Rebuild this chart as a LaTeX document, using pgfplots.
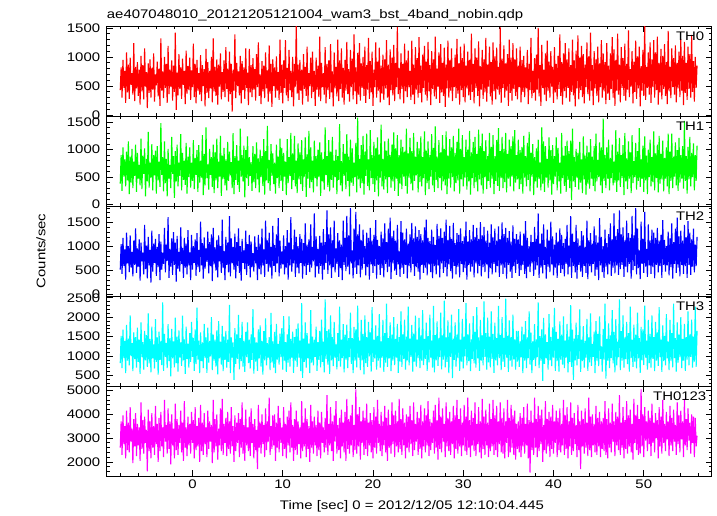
\documentclass[border=0pt]{standalone}
\usepackage{fontspec}
\setmainfont{Liberation Sans}[FakeStretch=1.2]
\usepackage{pgfplots}
\pgfplotsset{compat=1.18}
\usepackage{pgfplotstable}
\newcommand\fs{\fontsize{12.5}{15}\selectfont}
\definecolor{qred}{RGB}{255,0,0}
\definecolor{qgreen}{RGB}{0,255,0}
\definecolor{qblue}{RGB}{0,0,255}
\definecolor{qcyan}{RGB}{0,255,255}
\definecolor{qmag}{RGB}{255,0,255}

\pgfplotstableread{
t a b c d e
-8.0 430 380 520 820 2600
-7.9 820 900 1050 1520 3700
-7.8 300 250 430 690 2300
-7.7 950 1040 1180 1680 3950
-7.6 470 510 600 950 2750
-7.5 760 820 940 1390 3500
-7.4 210 330 310 560 2150
-7.3 1080 960 1290 1800 4150
-7.2 390 440 650 880 2500
-7.1 870 1150 1010 1450 3650
-7.0 280 190 470 760 2400
-6.9 990 870 1230 2050 4300
-6.8 520 400 560 1000 2850
-6.7 720 1010 890 1330 3400
-6.6 350 300 380 610 1950
-6.5 1240 780 1120 1610 3800
-6.4 240 520 620 920 2650
-6.3 830 1090 1380 1490 4050
-6.2 460 230 450 700 2250
-6.1 910 940 960 1730 3600
-6.0 330 470 580 850 2700
-5.9 780 720 1150 1420 3450
-5.8 180 350 290 540 2050
-5.7 1020 1200 1080 1870 4500
-5.6 410 280 690 970 2550
-5.5 860 890 870 1360 3750
-5.4 270 560 420 650 2350
-5.3 1150 1020 1450 1650 3900
-5.2 490 150 530 890 2800
-5.1 740 830 1020 1540 3350
-5.0 120 420 340 720 1600
-4.9 890 1320 1200 2100 4200
-4.8 380 310 610 810 2450
-4.7 960 760 930 1440 3700
-4.6 300 490 250 580 2150
-4.5 810 1100 1330 1760 4050
-4.4 440 260 480 940 2600
-4.3 1060 900 1060 1300 3500
-4.2 230 530 660 680 2300
-4.1 700 980 1160 1950 4350
-4.0 510 200 390 850 2750
-3.9 920 1060 990 1480 3600
-3.8 320 440 570 520 2000
-3.7 800 780 1260 1630 3850
-3.6 160 320 300 900 2450
-3.5 1320 1480 1100 1390 4100
-3.4 420 540 520 770 2650
-3.3 750 860 870 2380 3450
-3.2 290 240 640 620 2200
-3.1 1000 1150 1390 1570 4600
-3.0 470 390 460 980 2850
-2.9 880 830 1040 1340 3550
-2.8 210 150 700 690 2350
-2.7 1190 1010 1610 1820 4250
-2.6 360 470 350 870 2550
-2.5 780 720 950 1460 3700
-2.4 490 300 580 480 1900
-2.3 940 1230 1170 1700 4000
-2.2 250 560 410 940 2700
-2.1 850 880 1300 1380 3400
-2.0 400 120 620 710 2150
-1.9 1420 970 1080 1990 4450
-1.8 90 420 270 820 2500
-1.7 730 1090 1220 1500 3800
-1.6 340 330 540 600 2300
-1.5 1050 760 890 1660 3550
-1.4 450 520 480 960 2800
-1.3 820 1280 1400 1350 4150
-1.2 280 260 640 750 2400
-1.1 970 940 970 2040 3650
-1.0 520 450 350 890 2050
-0.9 760 800 1180 1430 4550
-0.8 190 360 560 540 2600
-0.7 1110 1120 1060 1760 3450
-0.6 370 200 420 930 2250
-0.5 840 870 1340 1320 3900
-0.4 430 500 610 700 2700
-0.3 990 1040 880 1590 3600
-0.2 260 310 300 850 2350
-0.1 770 760 1240 1880 4100
0.0 480 430 520 980 2800
0.1 1230 1170 1010 1470 3750
0.2 310 280 660 620 2150
0.3 880 850 1150 1690 4300
0.4 200 540 390 790 2500
0.5 950 990 1280 2250 3500
0.6 420 230 570 910 2650
0.7 720 1080 930 1400 3850
0.8 350 400 470 560 2000
0.9 1030 800 1520 1610 4400
1.0 240 490 610 870 2450
1.1 860 1260 1070 1350 3650
1.2 500 170 330 690 2300
1.3 790 920 1190 1830 4050
1.4 150 350 540 960 2750
1.5 1140 1400 960 1480 3450
1.6 380 480 680 570 2200
1.7 910 730 1310 1730 4150
1.8 290 270 440 830 2550
1.9 760 1010 1090 1390 3700
2.0 460 540 590 990 2850
2.1 1000 860 1250 2000 3550
2.2 220 320 280 640 1950
2.3 1320 1090 1390 1550 4600
2.4 410 210 630 880 2400
2.5 830 950 980 1420 3800
2.6 330 440 500 730 2650
2.7 960 1200 1140 1660 4000
2.8 180 300 360 530 2100
2.9 870 780 1230 1900 3400
3.0 490 510 690 940 2700
3.1 1060 1250 1010 1370 4250
3.2 270 160 450 780 2450
3.3 740 890 1560 1780 4650
3.4 400 470 550 610 2300
3.5 940 1030 910 1500 3600
3.6 310 350 300 900 2800
3.7 1170 820 1200 1650 3850
3.8 450 260 620 700 2250
3.9 800 1140 1080 1420 4100
4.0 230 430 460 850 2550
4.1 1090 960 1630 2320 3700
4.2 360 530 380 560 2350
4.3 880 770 1170 1480 4300
4.4 60 300 650 960 2650
4.5 780 1300 990 1350 3500
4.6 420 190 520 390 2000
4.7 1390 880 1270 1720 3950
4.8 290 450 340 800 2450
4.9 900 1080 1090 1560 3650
5.0 500 360 600 930 2800
5.1 750 800 1380 2060 4050
5.2 340 230 450 660 2200
5.3 1020 1380 1010 1460 3800
5.4 200 510 290 870 2600
5.5 930 900 1160 1880 4500
5.6 430 420 660 730 2350
5.7 820 1070 920 1390 3550
5.8 280 130 530 590 2050
5.9 1150 990 1330 1620 4200
6.0 470 480 410 970 2700
6.1 730 1240 1050 1870 3450
6.2 170 340 600 820 2450
6.3 1140 860 1240 1420 3900
6.4 390 520 360 680 2250
6.5 860 770 1100 1560 4250
6.6 310 250 570 900 2800
6.7 980 1060 860 2210 3600
6.8 440 410 480 550 2150
6.9 790 920 1210 1480 3800
7.0 250 300 650 860 2500
7.1 1050 1130 990 1350 3350
7.2 480 460 300 620 1700
7.3 1250 840 1240 1690 4400
7.4 330 220 530 940 2600
7.5 700 1000 1060 1790 3650
7.6 190 500 420 730 2350
7.7 930 880 1370 1390 4000
7.8 410 340 610 520 2750
7.9 850 1190 940 1640 3550
8.0 290 180 370 890 2200
8.1 1080 970 1540 1970 4250
8.2 460 440 640 760 2500
8.3 770 1430 1130 1330 3700
8.4 230 390 480 960 2850
8.5 1200 810 1290 1490 4700
8.6 370 250 560 640 2300
8.7 880 1100 990 2110 3500
8.8 140 520 330 840 2550
8.9 960 930 1430 1380 3950
9.0 500 370 600 700 2700
9.1 820 760 1030 1620 4000
9.2 300 200 470 560 2050
9.3 1010 1090 1250 1830 3650
9.4 420 480 650 910 2600
9.5 740 870 1590 1310 4350
9.6 260 300 380 780 2400
9.7 1300 1200 1120 1580 3850
9.8 380 430 540 970 2800
9.9 870 1030 900 1720 3450
10.0 200 250 630 650 2250
10.1 940 940 1230 2030 4300
10.2 470 510 420 880 2550
10.3 1290 780 1010 1360 3600
10.4 340 170 560 590 2150
10.5 810 1190 1340 1560 3900
10.6 240 390 310 830 2700
10.7 1120 860 1080 2020 4150
10.8 430 520 610 730 2400
10.9 760 1300 1610 1440 4500
11.0 310 280 480 960 2600
11.1 1000 930 940 1630 3550
11.2 150 450 650 570 2050
11.3 880 1250 1350 1490 3800
11.4 490 330 370 880 2500
11.5 1560 800 1200 1700 4150
11.6 370 210 560 720 2300
11.7 870 1110 1010 1840 3700
11.8 260 460 440 960 2750
11.9 950 950 1260 1400 3450
12.0 420 370 660 610 2150
12.1 780 1170 1160 2360 4550
12.2 180 250 330 440 2450
12.3 1050 820 1070 1450 3650
12.4 450 510 590 850 2650
12.5 830 1220 1480 1870 4250
12.6 330 140 410 700 2200
12.7 1180 910 1040 1590 3800
12.8 230 470 620 940 2550
12.9 720 1340 1150 1320 3500
13.0 500 300 470 560 2000
13.1 990 1040 1460 2180 4400
13.2 290 410 560 830 2600
13.3 1090 800 990 1500 3700
13.4 400 220 690 760 2350
13.5 760 1160 1690 1420 3900
13.6 160 480 360 980 2700
13.7 990 880 1210 1760 3550
13.8 440 330 590 620 2250
13.9 850 1000 950 1360 4150
14.0 310 500 430 900 2500
14.1 1350 1130 1220 1650 3650
14.2 240 160 600 710 2150
14.3 900 950 1080 1940 4100
14.4 480 420 310 850 2800
14.5 720 830 1360 1370 3450
14.6 350 270 520 580 2400
14.7 1170 1400 1090 2460 3850
14.8 200 540 660 930 2600
14.9 880 880 1750 1640 4800
15.0 430 320 430 780 2300
15.1 940 1170 1250 1690 3600
15.2 280 240 610 540 2700
15.3 1220 960 1400 2050 4300
15.4 390 450 350 890 2450
15.5 750 1230 1130 1490 3700
15.6 150 310 570 740 2050
15.7 1080 800 1540 1880 3950
15.8 460 500 460 960 2850
15.9 830 1000 960 1300 4550
16.0 320 190 640 660 2350
16.1 1300 880 1280 1590 3550
16.2 240 450 370 870 2500
16.3 940 1460 1130 2270 3850
16.4 450 350 550 730 2150
16.5 1150 790 1040 1420 4200
16.6 300 240 300 950 2650
16.7 810 1100 1540 1820 3650
16.8 180 520 620 580 2400
16.9 950 920 1180 1550 4100
17.0 420 280 490 910 2050
17.1 1260 1280 1640 1810 4650
17.2 360 430 580 690 2550
17.3 790 870 1230 1460 3800
17.4 230 150 420 970 2350
17.5 1120 1180 1800 2120 3950
17.6 480 400 650 800 2700
17.7 970 1020 920 1460 4400
17.8 270 340 340 560 2200
17.9 1390 760 1370 1750 3550
18.0 410 500 560 880 2500
18.1 820 1120 1720 1690 5050
18.2 190 220 430 710 2350
18.3 1070 1580 1250 2300 4000
18.4 350 460 610 960 2650
18.5 1240 830 1460 1400 4300
18.6 250 300 360 640 2100
18.7 890 1080 1130 1930 3700
18.8 470 390 520 890 2800
18.9 1000 1250 1350 1570 4150
19.0 330 180 640 530 2300
19.1 1180 960 1010 2050 3850
19.2 210 520 400 820 2550
19.3 860 1290 1290 1490 4450
19.4 440 340 570 720 2250
19.5 1330 820 1180 1880 3650
19.6 280 260 310 990 2700
19.7 930 1350 1390 1610 4050
19.8 390 480 630 600 2400
19.9 1090 900 1120 2260 3750
20.0 160 370 450 850 2150
20.1 780 1140 1240 1420 4300
20.2 480 230 590 940 2600
20.3 1250 1020 1550 1790 3900
20.4 300 440 330 650 2350
20.5 920 1220 1140 1520 4600
20.6 420 150 620 880 2800
20.7 1160 910 1010 2080 3600
20.8 220 490 410 700 2450
20.9 850 1450 1310 1380 4100
21.0 370 330 550 960 2250
21.1 1040 830 1170 1930 3700
21.2 260 270 360 590 2700
21.3 960 1150 1480 1590 4350
21.4 460 460 640 830 2400
21.5 1290 980 1090 2350 3850
21.6 300 210 470 720 2050
21.7 870 1200 1370 1460 4200
21.8 170 500 580 940 2600
21.9 1130 900 1600 1870 3550
22.0 430 310 320 610 2350
22.1 990 1090 1210 1550 4500
22.2 340 420 650 880 2750
22.3 1210 1310 1330 2000 3950
22.4 240 250 500 770 2200
22.5 900 1020 1120 1440 4150
22.6 480 470 410 960 2650
22.7 1520 1260 1450 1830 3700
22.8 360 160 630 570 2400
22.9 810 900 900 1490 4650
23.0 270 380 370 860 2550
23.1 1060 1180 1530 2150 3800
23.2 450 280 560 720 2300
23.3 880 1050 1290 1560 4250
23.4 200 510 430 930 2700
23.5 1230 960 1150 1940 3650
23.6 410 340 620 650 2150
23.7 940 1380 1370 1500 4000
23.8 310 200 340 890 2600
23.9 1110 930 1060 2270 3900
24.0 480 490 590 760 2400
24.1 760 1210 1250 1450 4350
24.2 260 370 460 980 2750
24.3 1280 970 1490 1800 3750
24.4 350 260 640 600 2250
24.5 870 1300 1170 1580 4500
24.6 190 430 390 860 2500
24.7 1170 870 1420 2040 3600
24.8 440 530 570 730 2850
24.9 980 1140 1200 1420 4100
25.0 300 220 480 950 2300
25.1 1340 1020 1340 1980 3850
25.2 380 410 310 690 2550
25.3 850 1240 1260 1530 4400
25.4 220 330 620 880 2150
25.5 1040 860 1130 2180 3700
25.6 470 480 450 770 2650
25.7 1190 1330 1400 1440 4250
25.8 350 170 560 930 2400
25.9 920 980 1560 1860 3950
26.0 250 390 400 620 2700
26.1 1260 1150 1180 1510 4550
26.2 410 280 630 840 2250
26.3 860 900 1110 2070 3800
26.4 170 510 470 960 2500
26.5 1100 1280 1350 1400 3650
26.6 450 350 340 700 2800
26.7 960 1030 1200 2290 4150
26.8 320 230 590 580 2350
26.9 1350 1420 1030 1540 4400
27.0 280 450 420 890 2600
27.1 800 870 1470 1890 3750
27.2 490 300 610 750 2100
27.3 1080 1170 1220 1470 4700
27.4 210 480 360 970 2550
27.5 1220 950 1380 2120 3900
27.6 390 260 650 660 2400
27.7 900 1260 1180 1530 4250
27.8 330 420 450 910 2850
27.9 1160 1010 1310 2430 3600
28.0 140 350 570 710 2200
28.1 870 1330 1560 1480 4500
28.2 460 190 380 850 2650
28.3 1280 890 1140 1920 3850
28.4 300 470 630 560 2450
28.5 940 1190 1430 1600 4100
28.6 420 310 490 980 2300
28.7 1150 1040 1160 2070 3700
28.8 240 500 330 430 2750
28.9 830 1250 1490 1450 4350
29.0 480 240 600 900 2150
29.1 1040 940 1070 1870 3950
29.2 290 390 420 730 2550
29.3 1310 1140 1280 1550 4600
29.4 370 440 580 950 2350
29.5 890 1380 1240 2210 3800
29.6 180 200 360 620 2650
29.7 1180 1010 1380 1420 4250
29.8 430 460 640 860 2250
29.9 980 1260 1110 1960 3650
30.0 310 330 470 680 2700
30.1 1230 860 1210 1500 4400
30.2 220 490 550 990 2450
30.3 850 1180 1520 2360 3900
30.4 460 270 310 760 2300
30.5 1090 1000 1100 1560 4700
30.6 340 420 620 870 2600
30.7 950 1340 1340 1840 3750
30.8 260 180 480 610 2200
30.9 1400 950 1150 1430 4150
31.0 400 480 580 930 2700
31.1 880 1140 1450 2030 3850
31.2 200 300 360 810 2450
31.3 1150 1230 1200 1620 4500
31.4 470 410 650 700 2250
31.5 990 920 1390 2260 3600
31.6 330 240 440 940 2750
31.7 1270 1360 1160 1480 4300
31.8 150 460 600 620 2400
31.9 840 1060 1510 1930 3700
32.0 440 350 380 880 2150
32.1 1120 1290 1230 1530 4650
32.2 280 200 570 760 2550
32.3 960 970 1410 2410 3900
32.4 390 500 470 980 2300
32.5 1330 1170 1120 1590 4200
32.6 230 280 630 650 2700
32.7 870 880 1330 1990 3650
32.8 490 430 340 840 2200
32.9 1180 1300 1080 1500 4450
33.0 320 310 550 710 2450
33.1 910 1050 1460 2150 3800
33.2 180 470 420 930 2650
33.3 1250 1260 1190 1570 4600
33.4 410 190 640 570 2300
33.5 1010 880 1370 1860 3950
33.6 270 430 460 890 2500
33.7 1160 1170 1120 1460 4350
33.8 440 340 590 760 2200
33.9 830 1390 1420 2290 3700
34.0 350 250 370 950 2750
34.1 1510 970 1150 1540 4500
34.2 210 480 610 640 2400
34.3 970 1230 1500 2000 3850
34.4 470 300 430 860 2350
34.5 1200 1010 1260 1470 4250
34.6 300 410 560 720 2150
34.7 890 1300 1390 2480 3700
34.8 420 220 330 960 2800
34.9 1050 920 1180 1520 4600
35.0 160 470 620 590 2200
35.1 1300 1180 1320 1920 3850
35.2 380 330 480 880 2400
35.3 990 1060 1100 1490 4400
35.4 250 510 350 730 2600
35.5 1240 1240 1440 2070 3950
35.6 450 240 590 910 2300
35.7 960 1350 1160 1430 4150
35.8 330 400 450 650 2100
35.9 1150 900 1260 1650 3600
36.0 270 460 640 860 2550
36.1 850 1180 1150 1650 3700
36.2 480 280 390 720 2400
36.3 1180 990 1310 1380 4050
36.4 220 370 510 970 2200
36.5 950 1050 1020 1760 3850
36.6 400 200 620 560 2650
36.7 1020 1250 1270 1560 4300
36.8 310 490 430 880 2350
36.9 820 880 1530 1900 3600
37.0 460 330 340 690 2700
37.1 1120 1120 1180 1480 4450
37.2 190 450 580 950 2150
37.3 880 1320 1010 2150 3750
37.4 430 240 470 780 1550
37.5 1330 940 1240 1600 4150
37.6 290 510 650 560 2500
37.7 760 1100 1090 1380 3650
37.8 380 170 390 900 2300
37.9 980 860 1410 1820 4700
38.0 250 420 520 740 2600
38.1 1040 1020 1160 1430 3800
38.2 440 310 610 970 2200
38.3 1500 1180 1690 2380 4350
38.4 320 470 350 690 2450
38.5 860 760 1060 1510 3950
38.6 160 260 560 880 2750
38.7 1210 1400 1270 1690 4200
38.8 470 380 440 360 2000
38.9 780 1150 1460 1980 3550
39.0 350 230 620 800 2500
39.1 1060 1060 990 1560 4550
39.2 240 490 330 940 2350
39.3 1280 830 1350 1360 3800
39.4 420 310 580 650 2650
39.5 920 1220 1120 2080 4100
39.6 300 440 470 890 2200
39.7 1100 990 1520 1490 3900
39.8 490 180 630 740 2550
39.9 830 1080 1210 1740 4400
40.0 210 370 400 960 2350
40.1 1170 880 1040 2240 3700
40.2 390 510 560 620 2800
40.3 880 1220 1290 1620 4150
40.4 270 260 350 870 2200
40.5 1020 1030 1100 1440 3850
40.6 450 420 610 600 2500
40.7 1390 760 1380 1890 4250
40.8 330 200 450 910 2400
40.9 910 1300 1240 1550 3600
41.0 180 480 530 780 2700
41.1 1060 890 1070 2020 4600
41.2 410 340 380 690 2300
41.3 1240 1060 1160 1400 3950
41.4 290 230 640 960 2550
41.5 960 1160 1450 1830 4300
41.6 470 450 420 580 2150
41.7 1150 970 1020 1500 3700
41.8 230 300 580 850 2650
41.9 860 1160 1630 2310 4500
42.0 400 80 350 720 2300
42.1 1300 1380 1270 1680 3850
42.2 340 420 600 390 2450
42.3 940 860 1090 1450 4050
42.4 150 320 460 890 2750
42.5 1110 1010 1450 1860 3550
42.6 460 490 330 760 2200
42.7 1370 940 1170 1540 4400
42.8 270 270 620 930 2500
42.9 990 1140 1020 2200 3700
43.0 430 400 480 590 1700
43.1 1190 820 1320 1420 4150
43.2 310 210 370 870 2650
43.3 1050 1240 1230 1770 3800
43.4 200 460 600 700 2350
43.5 870 890 990 1390 4250
43.6 480 180 450 960 2600
43.7 1250 1070 1540 1960 3650
43.8 360 380 320 620 2250
43.9 1010 950 1130 1480 4700
44.0 250 290 590 840 2500
44.1 1420 1190 1280 2100 3900
44.2 420 470 460 750 2200
44.3 860 870 1060 1310 4000
44.4 170 340 640 980 2700
44.5 1100 1060 1420 1630 3600
44.6 460 240 390 560 2400
44.7 960 1290 1230 1900 4350
44.8 330 420 520 880 2300
44.9 1180 810 1080 1570 3850
45.0 220 500 300 740 2650
45.1 890 1130 1590 2020 4100
45.2 480 350 610 930 2200
45.3 1290 1040 1200 1250 3700
45.4 300 210 470 600 2550
45.5 1060 1560 1010 1700 3850
45.6 410 430 350 910 2450
45.7 910 900 1350 2350 4550
45.8 190 300 580 420 2300
45.9 1240 1040 1070 1440 3800
46.0 370 470 420 880 2150
46.1 850 1180 1260 1840 4250
46.2 260 260 630 690 2600
46.3 1060 850 1480 1530 3650
46.4 450 480 390 950 2400
46.5 1340 1090 1150 2180 4450
46.6 300 350 560 810 2850
46.7 1130 780 1690 1620 3700
46.8 160 400 440 580 2250
46.9 950 1350 1220 1950 4100
47.0 420 230 610 760 2700
47.1 1400 960 1360 1370 3900
47.2 350 440 410 970 2500
47.3 870 1210 1750 2460 4800
47.4 220 320 530 640 2300
47.5 1170 900 1250 1640 3650
47.6 470 480 620 880 2600
47.7 980 1080 1400 2050 4300
47.8 330 170 370 700 2150
47.9 1230 1300 1130 1480 3750
48.0 250 420 580 920 2550
48.1 880 840 1540 1880 4550
48.2 440 280 460 790 2350
48.3 1460 1150 1280 1590 3950
48.4 310 470 640 600 2650
48.5 790 950 1180 2270 4200
48.6 490 210 330 950 2400
48.7 1100 1260 1640 1420 3600
48.8 200 390 510 720 2100
48.9 920 790 1230 1810 4650
49.0 400 500 600 860 2800
49.1 1280 1120 1800 1550 3950
49.2 280 270 420 680 2500
49.3 1010 970 1370 2120 4400
49.4 460 430 550 940 2300
49.5 1180 1390 920 1460 3800
49.6 150 320 320 570 2350
49.7 840 820 1520 1750 5050
49.8 420 470 640 890 2650
49.9 1120 1070 1160 1690 4000
50.0 330 230 450 770 2200
50.1 1580 1240 1720 2300 4300
50.2 260 440 580 960 2900
50.3 830 890 950 1400 3700
50.4 470 190 370 650 2450
50.5 1080 1000 1460 1930 4150
50.6 350 500 610 820 2750
50.7 1250 1180 1130 1570 3850
50.8 210 330 430 700 2250
50.9 960 860 1350 2050 4450
51.0 480 410 570 930 2800
51.1 1290 1330 1290 1490 3650
51.2 300 260 340 610 2400
51.3 1080 930 1180 1880 4050
51.4 430 480 620 880 3000
51.5 1350 1090 1390 1610 3750
51.6 180 220 460 750 2150
51.7 900 1250 1120 2260 4300
51.8 390 380 590 970 2650
51.9 1140 920 1240 1420 3900
52.0 270 460 350 590 2350
52.1 1020 1160 1550 1790 4600
52.2 450 240 620 870 2800
52.3 1220 850 1140 1520 3600
52.4 330 470 480 760 2450
52.5 910 1040 1010 2080 4100
52.6 190 330 610 940 2950
52.7 1450 1290 1310 1380 3700
52.8 410 190 400 640 2250
52.9 830 960 1170 1930 4350
53.0 290 430 570 880 2700
53.1 1150 1290 1480 1590 3850
53.2 480 300 330 710 2450
53.3 980 870 1090 2350 4200
53.4 350 510 640 950 2850
53.5 1200 1130 1370 1460 3550
53.6 220 350 450 600 2300
53.7 900 990 1600 1870 4500
53.8 460 250 560 830 2750
53.9 1090 1210 1210 1550 3950
54.0 310 400 380 970 2400
54.1 1310 900 1330 2000 4150
54.2 420 470 620 690 2950
54.3 1020 1060 1120 1440 3700
54.4 170 290 430 880 2200
54.5 1260 1520 1450 1830 4650
54.6 380 430 590 620 2700
54.7 900 880 1190 1490 3800
54.8 260 200 350 910 2500
54.9 1180 1050 1530 2150 4250
55.0 450 460 620 760 2900
55.1 1050 1230 1290 1560 3650
55.2 300 330 410 980 2350
55.3 1380 940 1150 1940 4000
55.4 400 500 580 700 2800
55.5 930 1110 1370 1500 3900
55.6 230 260 460 860 2200
55.7 1000 900 1040 2270 3850
55.8 470 430 590 720 2650
55.9 850 1070 1200 1650 3100
}\lc

\pgfplotsset{panel/.style={
  scale only axis, width=604.8bp, height=90bp, anchor=south west,
  xmin=-9.5, xmax=57.5, xtick={0,10,...,50}, minor xtick={-8,-6,...,56},
  xticklabels={},
  tick align=inside, major tick length=6bp, minor tick length=3bp,
  every tick/.style={black, line width=0.8bp},
  axis line style={black, line width=1bp},
  yticklabel style={font=\fs, xshift=-3bp},
  xticklabel style={font=\fs},
  /pgf/number format/assume math mode=true,
  /pgf/number format/1000 sep={},
  scaled y ticks=false,
  every axis plot/.append style={line width=1.1bp},
}}

\begin{document}
\begin{tikzpicture}
\useasboundingbox (0,0) rectangle (717bp,516bp);
\begin{axis}[panel, at={(106.7bp,399.5bp)}, ymin=-25, ymax=1525,
  ytick={0,500,1000,1500}, minor ytick={0,100,...,1500}]
\addplot[qred] table[x=t,y=a]{\lc};
\node[anchor=north east, font=\fs, inner sep=0pt, xshift=-7bp, yshift=-5bp] at (rel axis cs:1,1) {TH0};
\end{axis}
\begin{axis}[panel, at={(106.7bp,309.5bp)}, ymin=-35, ymax=1600,
  ytick={0,500,1000,1500}, minor ytick={0,100,...,1600}]
\addplot[qgreen] table[x=t,y=b]{\lc};
\node[anchor=north east, font=\fs, inner sep=0pt, xshift=-7bp, yshift=-5bp] at (rel axis cs:1,1) {TH1};
\end{axis}
\begin{axis}[panel, at={(106.7bp,219.5bp)}, ymin=-40, ymax=1833,
  ytick={0,500,1000,1500}, minor ytick={0,100,...,1800}]
\addplot[qblue] table[x=t,y=c]{\lc};
\node[anchor=north east, font=\fs, inner sep=0pt, xshift=-7bp, yshift=-5bp] at (rel axis cs:1,1) {TH2};
\end{axis}
\begin{axis}[panel, at={(106.7bp,129.5bp)}, ymin=216, ymax=2534,
  ytick={500,1000,1500,2000,2500}, minor ytick={300,400,...,2500}]
\addplot[qcyan] table[x=t,y=d]{\lc};
\node[anchor=north east, font=\fs, inner sep=0pt, xshift=-7bp, yshift=-5bp] at (rel axis cs:1,1) {TH3};
\end{axis}
\begin{axis}[panel, at={(106.7bp,39.5bp)}, ymin=1389, ymax=5167,
  ytick={2000,3000,4000,5000}, minor ytick={1400,1600,...,5000},
  xticklabels={0,10,20,30,40,50}]
\addplot[qmag] table[x=t,y=e]{\lc};
\node[anchor=north east, font=\fs, inner sep=0pt, xshift=-5bp, yshift=-5bp] at (rel axis cs:1,1) {TH0123};
\end{axis}
\node[anchor=base west, font=\fs, inner sep=0pt] at (106.7bp,497bp) {ae407048010\_20121205121004\_wam3\_bst\_4band\_nobin.qdp};
\node[rotate=90, font=\fs, inner sep=0pt] at (41bp,265bp) {Counts/sec};
\node[anchor=base, font=\fs, inner sep=0pt] at (412bp,7bp) {Time [sec] 0 = 2012/12/05 12:10:04.445};
\end{tikzpicture}
\end{document}
